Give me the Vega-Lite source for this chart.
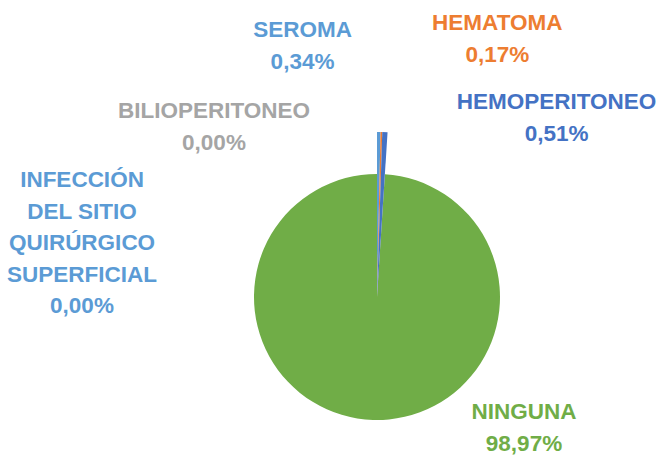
{
  "$schema": "https://vega.github.io/schema/vega-lite/v6.json",
  "width": 564,
  "height": 322,
  "autosize": {"type": "none"},
  "padding": {"left": 95, "top": 136, "right": 0, "bottom": 0},
  "background": "white",
  "config": {"view": {"stroke": null}, "text": {"font": "Liberation Sans", "fontWeight": "bold", "fontSize": 22.5, "lineHeight": 31.5, "align": "center", "baseline": "middle", "lineBreak": "\n"}},
  "data": {
    "values": [
      {"orden": 1, "complicacion": "INFECCIÓN DEL SITIO QUIRÚRGICO SUPERFICIAL", "porcentaje": 0.00, "etiqueta": "INFECCIÓN\nDEL SITIO\nQUIRÚRGICO\nSUPERFICIAL\n0,00%"},
      {"orden": 2, "complicacion": "BILIOPERITONEO", "porcentaje": 0.00, "etiqueta": "BILIOPERITONEO\n0,00%"},
      {"orden": 3, "complicacion": "SEROMA", "porcentaje": 0.34, "etiqueta": "SEROMA\n0,34%"},
      {"orden": 4, "complicacion": "HEMATOMA", "porcentaje": 0.17, "etiqueta": "HEMATOMA\n0,17%"},
      {"orden": 5, "complicacion": "HEMOPERITONEO", "porcentaje": 0.51, "etiqueta": "HEMOPERITONEO\n0,51%"},
      {"orden": 6, "complicacion": "NINGUNA", "porcentaje": 98.97, "etiqueta": "NINGUNA\n98,97%"}
    ]
  },
  "transform": [
    {"stack": "porcentaje", "groupby": [], "sort": [{"field": "orden", "order": "ascending"}], "as": ["v0", "v1"]}
  ],
  "encoding": {
    "color": {
      "field": "complicacion",
      "type": "nominal",
      "legend": null,
      "scale": {
        "domain": ["INFECCIÓN DEL SITIO QUIRÚRGICO SUPERFICIAL", "BILIOPERITONEO", "SEROMA", "HEMATOMA", "HEMOPERITONEO", "NINGUNA"],
        "range": ["#5B9BD5", "#A5A5A5", "#5B9BD5", "#ED7D31", "#4472C4", "#70AD47"]
      }
    }
  },
  "layer": [
    {
      "transform": [{"filter": "datum.complicacion === 'NINGUNA'"}],
      "mark": {"type": "arc", "outerRadius": 123},
      "encoding": {
        "theta": {"field": "v0", "type": "quantitative", "stack": null, "scale": {"domain": [0, 99.99]}},
        "theta2": {"field": "v1"}
      }
    },
    {
      "transform": [{"filter": "datum.complicacion !== 'NINGUNA'"}],
      "mark": {"type": "arc", "outerRadius": 165},
      "encoding": {
        "theta": {"field": "v0", "type": "quantitative", "stack": null, "scale": {"domain": [0, 99.99]}},
        "theta2": {"field": "v1"}
      }
    },
    {
      "transform": [{"filter": "datum.orden === 1"}],
      "mark": {"type": "text", "dx": -295, "dy": 48},
      "encoding": {
        "theta": {"field": "v1", "type": "quantitative", "stack": null, "scale": {"domain": [0, 99.99]}},
        "radius": {"value": 165},
        "text": {"field": "etiqueta", "type": "nominal"}
      }
    },
    {
      "transform": [{"filter": "datum.orden === 2"}],
      "mark": {"type": "text", "dx": -163, "dy": -21},
      "encoding": {
        "theta": {"field": "v1", "type": "quantitative", "stack": null, "scale": {"domain": [0, 99.99]}},
        "radius": {"value": 165},
        "text": {"field": "etiqueta", "type": "nominal"}
      }
    },
    {
      "transform": [{"filter": "datum.orden === 3"}],
      "mark": {"type": "text", "dx": -78, "dy": -102},
      "encoding": {
        "theta": {"field": "v1", "type": "quantitative", "stack": null, "scale": {"domain": [0, 99.99]}},
        "radius": {"value": 165},
        "text": {"field": "etiqueta", "type": "nominal"}
      }
    },
    {
      "transform": [{"filter": "datum.orden === 4"}],
      "mark": {"type": "text", "dx": 115, "dy": -109},
      "encoding": {
        "theta": {"field": "v1", "type": "quantitative", "stack": null, "scale": {"domain": [0, 99.99]}},
        "radius": {"value": 165},
        "text": {"field": "etiqueta", "type": "nominal"}
      }
    },
    {
      "transform": [{"filter": "datum.orden === 5"}],
      "mark": {"type": "text", "dx": 169, "dy": -30},
      "encoding": {
        "theta": {"field": "v1", "type": "quantitative", "stack": null, "scale": {"domain": [0, 99.99]}},
        "radius": {"value": 165},
        "text": {"field": "etiqueta", "type": "nominal"}
      }
    },
    {
      "transform": [{"filter": "datum.orden === 6"}],
      "mark": {"type": "text", "dx": 147, "dy": 115},
      "encoding": {
        "theta": {"field": "v0", "type": "quantitative", "stack": null, "scale": {"domain": [0, 99.99]}},
        "radius": {"value": 0},
        "text": {"field": "etiqueta", "type": "nominal"}
      }
    }
  ]
}
